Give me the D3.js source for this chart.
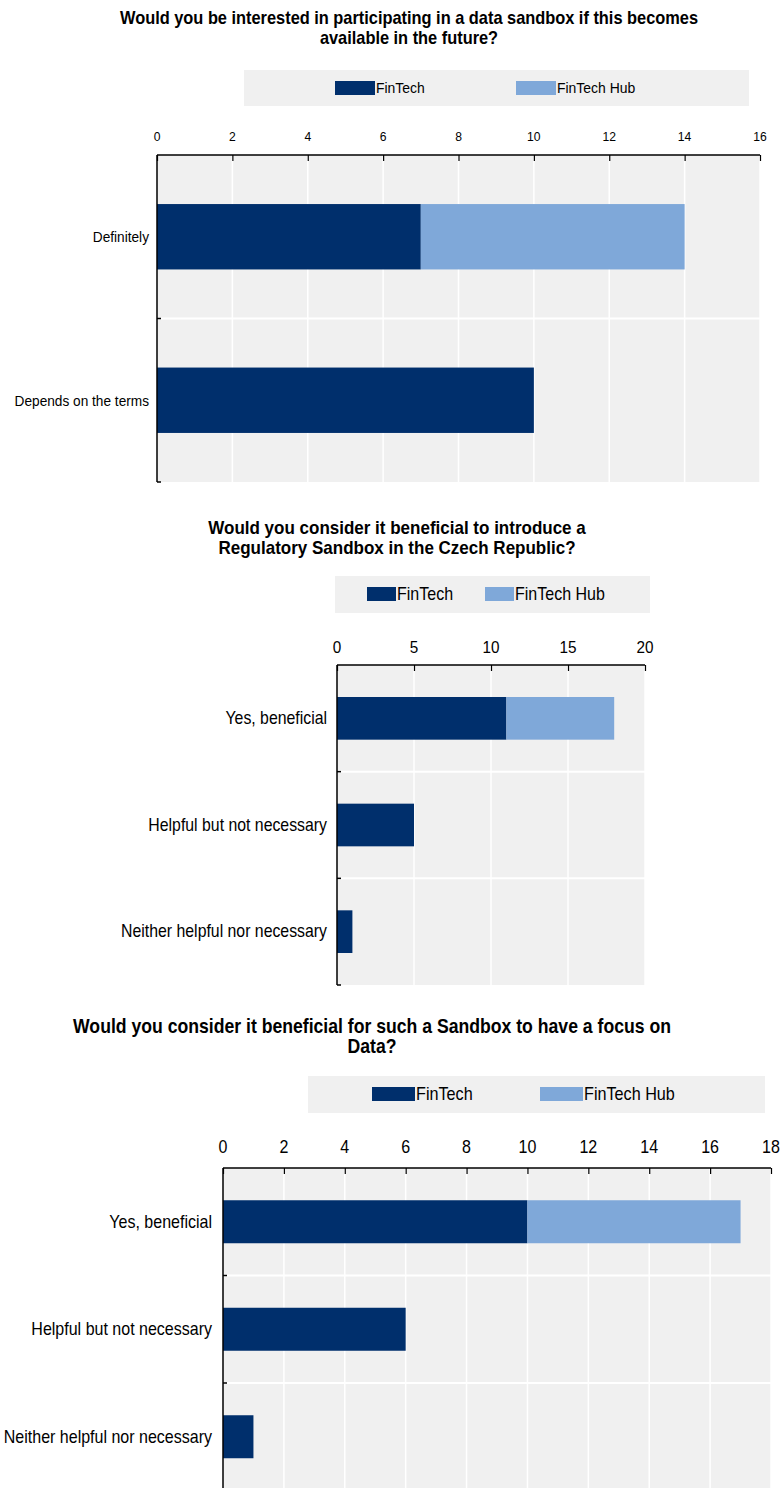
<!DOCTYPE html>
<html><head><meta charset="utf-8">
<script src="https://cdn.jsdelivr.net/npm/d3@7"></script>
<style>html,body{margin:0;padding:0;background:#fff;} svg{display:block;font-family:"Liberation Sans",Arial,sans-serif;}</style>
</head><body>
<svg id="c" width="781" height="1488"></svg>
<script>
// ---------- DATA ----------
const seriesNames = ["FinTech", "FinTech Hub"];

const chart1Title = ["Would you be interested in participating in a data sandbox if this becomes", "available in the future?"];
const chart1Categories = ["Definitely", "Depends on the terms"];
const chart1FinTech = [7, 10];
const chart1Hub = [7, 0];
const chart1Ticks = [0, 2, 4, 6, 8, 10, 12, 14, 16];

const chart2Title = ["Would you consider it beneficial to introduce a", "Regulatory Sandbox in the Czech Republic?"];
const chart2Categories = ["Yes, beneficial", "Helpful but not necessary", "Neither helpful nor necessary"];
const chart2FinTech = [11, 5, 1];
const chart2Hub = [7, 0, 0];
const chart2Ticks = [0, 5, 10, 15, 20];

const chart3Title = ["Would you consider it beneficial for such a Sandbox to have a focus on", "Data?"];
const chart3Categories = ["Yes, beneficial", "Helpful but not necessary", "Neither helpful nor necessary"];
const chart3FinTech = [10, 6, 1];
const chart3Hub = [7, 0, 0];
const chart3Ticks = [0, 2, 4, 6, 8, 10, 12, 14, 16, 18];

// ---------- STYLE / LAYOUT ----------
const colors = ["#002F6C", "#7FA8D9"];
const bg = "#F0F0F0";
const K = 0.9; // horizontal text compression

const svg = d3.select("#c");

function txt(parent, x, y, s, size, anchor, extra) {
  const g = parent.append("g").attr("transform", `translate(${x},${y}) scale(${K},1)`);
  const t = g.append("text").attr("x", 0).attr("y", 0).attr("text-anchor", anchor || "start")
    .attr("font-size", size).attr("fill", "#000").text(s);
  if (extra) extra(t);
  return t;
}

function drawChart(title, cats, s1, s2, ticks, L) {
  const g = svg.append("g");
  // title
  title.forEach((line, i) => txt(g, L.titleX, L.titleY + i * L.titleLH, line, L.titleSize, "middle", t => t.attr("font-weight", "bold")));

  // legend
  g.append("rect").attr("x", L.leg[0]).attr("y", L.leg[1]).attr("width", L.leg[2]).attr("height", L.leg[3]).attr("fill", bg);
  seriesNames.forEach((n, i) => {
    g.append("rect").attr("x", L.legX[i]).attr("y", L.legY).attr("width", L.swW).attr("height", 14).attr("fill", colors[i]);
    txt(g, L.legX[i] + L.swW + 1, L.legY + 7, n, L.legSize, "start", t => t.attr("dominant-baseline", "central"));
  });

  const x = d3.scaleLinear().domain([ticks[0], ticks[ticks.length - 1]]).range(L.xr);
  const y = d3.scaleBand().domain(cats).range(L.yr).paddingInner(0.6).paddingOuter(0.3);
  const yb = d3.scaleBand().domain(cats).range(L.yr);

  // plot bg
  g.append("rect").attr("x", L.xr[0]).attr("y", L.yr[0]).attr("width", L.xr[1] - L.xr[0]).attr("height", L.yr[1] - L.yr[0]).attr("fill", bg);
  // vertical gridlines
  g.selectAll(".vg").data(ticks.slice(1)).join("line")
    .attr("x1", d => x(d)).attr("x2", d => x(d)).attr("y1", L.yr[0]).attr("y2", L.yr[1])
    .attr("stroke", "#fff").attr("stroke-width", 1.5);
  // horizontal separators
  g.selectAll(".hg").data(cats.slice(1)).join("line")
    .attr("x1", L.xr[0]).attr("x2", L.xr[1]).attr("y1", d => yb(d)).attr("y2", d => yb(d))
    .attr("stroke", "#fff").attr("stroke-width", 2);

  // bars
  const rows = cats.map((c, i) => ({ c, a: s1[i], b: s2[i] }));
  g.selectAll(".b1").data(rows).join("rect")
    .attr("x", x(0)).attr("y", d => y(d.c)).attr("width", d => x(d.a) - x(0)).attr("height", y.bandwidth())
    .attr("fill", colors[0]);
  g.selectAll(".b2").data(rows.filter(d => d.b > 0)).join("rect")
    .attr("x", d => x(d.a)).attr("y", d => y(d.c)).attr("width", d => x(d.a + d.b) - x(d.a)).attr("height", y.bandwidth())
    .attr("fill", colors[1]);

  // top axis
  const ax = g.append("g").attr("transform", `translate(0,${L.yr[0]})`)
    .call(d3.axisTop(x).tickValues(ticks).tickSize(-6).tickFormat(""));
  ax.select(".domain").attr("stroke", "#000").attr("stroke-width", 1.5).attr("d", `M${L.xr[0]},0H${L.xr[1]}`);
  ax.selectAll(".tick line").attr("stroke", "#000").attr("stroke-width", 1.2);
  ticks.forEach(d => txt(g, x(d), L.tickY, d3.format("d")(d), L.tickSize, "middle"));

  // left axis
  g.append("line").attr("x1", L.xr[0]).attr("x2", L.xr[0]).attr("y1", L.yr[0]).attr("y2", L.yr[1]).attr("stroke", "#000").attr("stroke-width", 1.5);
  const bounds = cats.slice(1).map(c => yb(c)).concat([L.yr[1]]);
  g.selectAll(".lt").data(bounds).join("line")
    .attr("x1", L.xr[0]).attr("x2", L.xr[0] + 4).attr("y1", d => d).attr("y2", d => d)
    .attr("stroke", "#000").attr("stroke-width", 1.5);
  cats.forEach(c => txt(g, L.xr[0] - L.catGap, y(c) + y.bandwidth() / 2, c, L.catSize, "end", t => t.attr("dominant-baseline", "central")));
}

drawChart(chart1Title, chart1Categories, chart1FinTech, chart1Hub, chart1Ticks, {
  titleX: 409, titleY: 24, titleLH: 20, titleSize: 18.2,
  leg: [244, 70, 505, 36], legX: [335, 516], legY: 81, swW: 40, legSize: 15.5,
  xr: [157, 760], yr: [155, 482], tickY: 141, tickSize: 13.5, catSize: 15.2, catGap: 8
});
drawChart(chart2Title, chart2Categories, chart2FinTech, chart2Hub, chart2Ticks, {
  titleX: 397, titleY: 534, titleLH: 20, titleSize: 18.9,
  leg: [335, 576, 315, 37], legX: [367, 485], legY: 587, swW: 29, legSize: 17.8,
  xr: [337, 645], yr: [665, 985], tickY: 653, tickSize: 17, catSize: 17.6, catGap: 10
});
drawChart(chart3Title, chart3Categories, chart3FinTech, chart3Hub, chart3Ticks, {
  titleX: 372, titleY: 1033, titleLH: 20, titleSize: 19.6,
  leg: [308, 1076, 457, 37], legX: [372, 540], legY: 1087, swW: 43, legSize: 18,
  xr: [223, 771], yr: [1168, 1490.5], tickY: 1153, tickSize: 17.8, catSize: 17.8, catGap: 11
});
</script>
</body></html>
